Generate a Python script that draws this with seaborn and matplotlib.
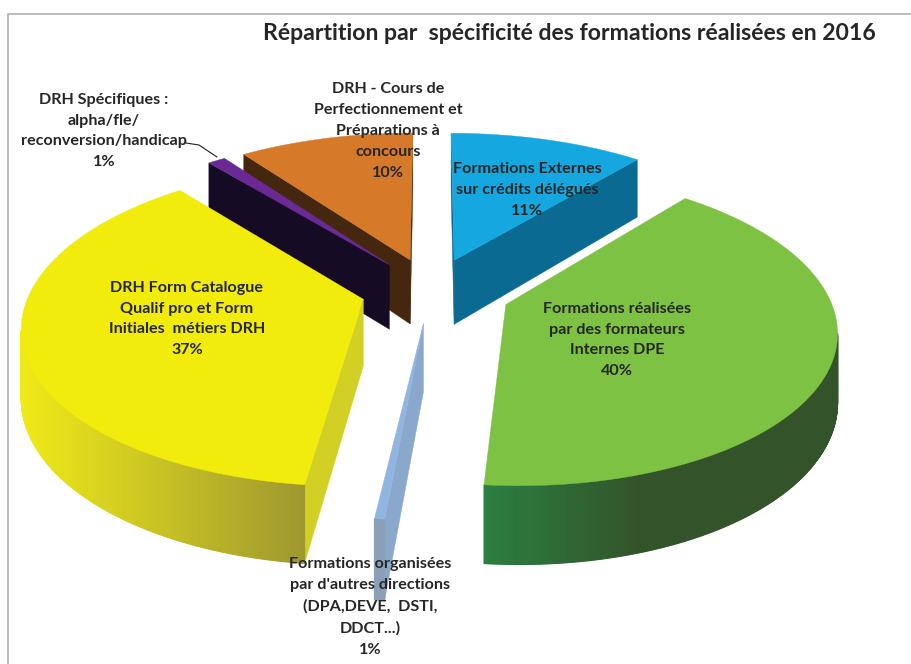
import numpy as np
import matplotlib
matplotlib.use("Agg")
import matplotlib.pyplot as plt
import seaborn as sns

sns.set_theme(style="white")
plt.rcParams['font.family'] = ['Lato', 'DejaVu Sans']

title = "Répartition par  spécificité des formations réalisées en 2016"
labels = ["Formations Externes\nsur crédits délégués\n11%",
          "Formations réalisées\npar des formateurs\nInternes DPE\n40%",
          "Formations organisées\npar d'autres directions\n(DPA,DEVE,  DSTI,\nDDCT...)\n1%",
          "DRH Form Catalogue\nQualif pro et Form\nInitiales  métiers DRH\n37%",
          "DRH Spécifiques :\nalpha/fle/\nreconversion/handicap\n1%",
          "DRH - Cours de\nPerfectionnement et\nPréparations à\nconcours\n10%"]
values = [11, 40.2, 0.4, 37, 1, 9.9]
explode = [0.21, 0.24, 0.21, 0.21, 0.21, 0.21]
radius = [1, 0.965, 1, 1, 1, 1]
label_x = [527, 617, 370, 187, 104, 388]
label_y = [190, 340, 607, 319, 131, 131]
top_colors = ["#14a7e0", "#7dc242", "#8fb5e0", "#f2ec0c", "#6a2a95", "#d67a2a"]
face_colors = ["#0a6a92", "#2f5a2a", "#8aa8cc", "#d2d024", "#150b24", "#45270f"]
wall_left = ["#0a6a92", "#2a8040", "#8c9fb8", "#f0ea18", "#150b24", "#45270f"]
wall_right = ["#0a6a92", "#33532a", "#8c9fb8", "#9c9630", "#150b24", "#45270f"]
wall_span = [(0, 1), (480, 640), (380, 395), (20, 310), (0, 1), (0, 1)]
draw_order = [5, 4, 0, 1, 3, 2]

CX, CY, A, B, K, DEPTH = 431, 290, 333, 155, 0.154, 66


def project(u, v, drop=False):
    s = 1 / (1 + K * v)
    px = CX + A * u * s
    py = CY - B * v * s
    if drop:
        py = py + DEPTH * s
    return px, py


fig = plt.figure(figsize=(9.11, 6.64), dpi=100, facecolor="white")
ax = fig.add_axes([0, 0, 1, 1])
ax.set_xlim(0, 911)
ax.set_ylim(664, 0)
ax.axis("off")

fractions = np.cumsum([0] + values) / sum(values) * 2 * np.pi
for i in draw_order:
    t0, t1 = fractions[i], fractions[i + 1]
    mid = (t0 + t1) / 2
    ou, ov = explode[i] * np.sin(mid), explode[i] * np.cos(mid)
    th = np.linspace(t0, t1, max(3, int(np.degrees(t1 - t0) * 3) + 1))
    u = ou + radius[i] * np.sin(th)
    v = ov + radius[i] * np.cos(th)
    tx, ty = project(u, v)
    bx, by = project(u, v, True)
    ax_, ay_ = project(np.array([ou]), np.array([ov]))
    axb, ayb = project(np.array([ou]), np.array([ov]), True)
    # cut faces
    if tx[0] < ax_[0]:
        ax.fill([ax_[0], tx[0], bx[0], axb[0]], [ay_[0], ty[0], by[0], ayb[0]],
                color=face_colors[i], lw=0.3, zorder=2)
    if ax_[0] < tx[-1]:
        ax.fill([tx[-1], ax_[0], axb[0], bx[-1]], [ty[-1], ay_[0], ayb[0], by[-1]],
                color=face_colors[i], lw=0.3, zorder=2)
    # outer wall with horizontal gradient
    grad = sns.blend_palette([wall_left[i], wall_right[i]], 128)
    lo, hi = wall_span[i]
    for j in range(len(th) - 1):
        if tx[j + 1] < tx[j]:
            f = np.clip(((tx[j] + tx[j + 1]) / 2 - lo) / (hi - lo), 0, 1)
            ax.fill([tx[j], tx[j + 1], bx[j + 1], bx[j]],
                    [ty[j], ty[j + 1], by[j + 1], by[j]],
                    color=grad[int(f * 127)], lw=0.8, zorder=2)
    # top surface
    ax.fill(np.r_[ax_, tx], np.r_[ay_, ty], color=top_colors[i], lw=0.3, zorder=3)

# frame of the chart area
ax.plot([8, 8, 911], [664, 14, 14], color="#b0b0b0", lw=1.2, zorder=1)

# leader line
ax.plot([186, 199, 217], [143, 145, 157], color="#222222", lw=0.8, zorder=4)

text_color = "#262626"
ax.text(569.5, 33, title, ha="center", va="center", fontsize=16.6,
        fontweight="bold", color=text_color, zorder=5)
for lab, x, y in zip(labels, label_x, label_y):
    ax.text(x, y, lab, ha="center", va="center", fontsize=11.6, fontweight="bold",
            color=text_color, linespacing=1.63, zorder=5)

fig.savefig("out.png", dpi=100)
